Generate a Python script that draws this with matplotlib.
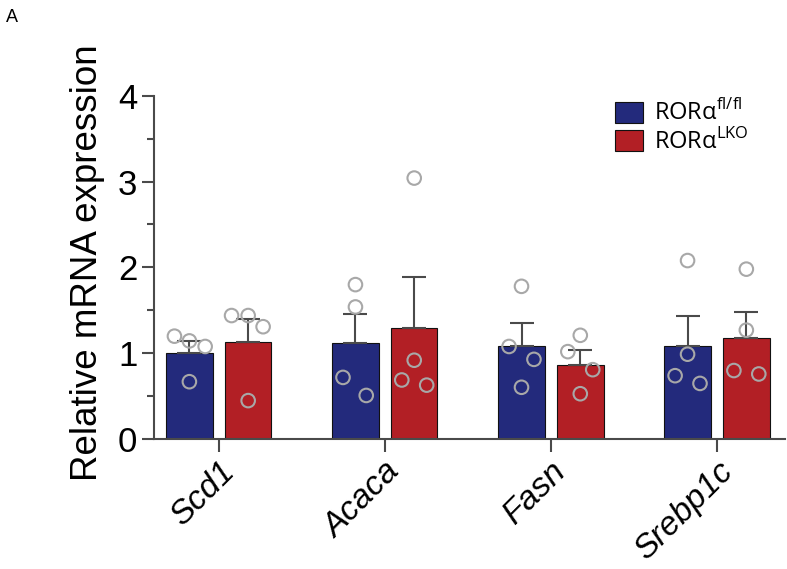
import numpy as np
import matplotlib
matplotlib.use("Agg")
import matplotlib.pyplot as plt
from matplotlib.ticker import MultipleLocator

plt.rcParams['font.family'] = ['Liberation Sans', 'DejaVu Sans']

genes = ["Scd1", "Acaca", "Fasn", "Srebp1c"]

# group means and upper SEM
wt_mean = [1.00, 1.125, 1.08, 1.09]
wt_sem = [0.14, 0.33, 0.27, 0.35]
ko_mean = [1.13, 1.30, 0.87, 1.18]
ko_sem = [0.27, 0.59, 0.17, 0.30]

# individual animals
wt_points = [
    [1.20, 1.145, 1.08, 0.67],
    [1.80, 1.54, 0.72, 0.51],
    [1.78, 1.08, 0.93, 0.605],
    [2.08, 0.99, 0.74, 0.65],
]
ko_points = [
    [1.44, 1.44, 1.31, 0.45],
    [3.04, 0.92, 0.69, 0.63],
    [1.21, 1.02, 0.81, 0.53],
    [1.98, 1.27, 0.80, 0.76],
]
# horizontal jitter of each dot within its bar
wt_jitter = [
    [-0.09, 0.0, 0.095, 0.0],
    [0.0, 0.0, -0.075, 0.065],
    [0.0, -0.075, 0.075, 0.0],
    [0.0, 0.0, -0.075, 0.075],
]
ko_jitter = [
    [-0.10, 0.0, 0.09, 0.0],
    [0.0, 0.0, -0.075, 0.075],
    [0.0, -0.075, 0.075, 0.0],
    [0.0, 0.0, -0.075, 0.075],
]

blue = "#232a7c"
red = "#b21f25"
dot_color = "#a8a8a8"
axis_color = "#4a4a4a"

fig = plt.figure(figsize=(7.87, 5.69), dpi=100)
ax = fig.add_axes([0.1957, 0.228, 0.8018, 0.604])

x = np.arange(len(genes))
width = 0.28
off = 0.177

err_kw = dict(ecolor=axis_color, elinewidth=1.5, capsize=8.6, capthick=1.5)
ax.bar(x - off, wt_mean, width, color=blue, edgecolor="#111111", linewidth=0.8,
       yerr=[np.zeros(len(genes)), wt_sem], error_kw=err_kw,
       label=r"ROR$\mathregular{\alpha}^{\mathregular{fl/fl}}$", zorder=2)
ax.bar(x + off, ko_mean, width, color=red, edgecolor="#111111", linewidth=0.8,
       yerr=[np.zeros(len(genes)), ko_sem], error_kw=err_kw,
       label=r"ROR$\mathregular{\alpha}^{\mathregular{LKO}}$", zorder=2)

for i in range(len(genes)):
    ax.scatter(x[i] - off + np.array(wt_jitter[i]), wt_points[i], s=95, facecolors="none",
               edgecolors=dot_color, linewidths=1.5, zorder=3)
    ax.scatter(x[i] + off + np.array(ko_jitter[i]), ko_points[i], s=95, facecolors="none",
               edgecolors=dot_color, linewidths=1.5, zorder=3)

ax.set_xlim(-0.39, 3.41)
ax.set_ylim(0, 4)
ax.yaxis.set_major_locator(MultipleLocator(1))
ax.yaxis.set_minor_locator(MultipleLocator(0.5))
ax.set_xticks(x)
ax.set_xticklabels(genes, rotation=45, ha="right", rotation_mode="anchor",
                   fontstyle="italic", fontsize=24)
ax.tick_params(axis="y", labelsize=25, length=9, width=1.5, color=axis_color, pad=3)
ax.tick_params(axis="y", which="minor", length=5, width=1.5, color=axis_color)
ax.tick_params(axis="x", length=9, width=1.5, color=axis_color, pad=3)
for side in ["top", "right"]:
    ax.spines[side].set_visible(False)
for side in ["left", "bottom"]:
    ax.spines[side].set_color(axis_color)
    ax.spines[side].set_linewidth(1.5)
ax.set_ylabel("Relative mRNA expression", fontsize=26.5)
ax.yaxis.set_label_coords(-0.077, 0.515)

leg = ax.legend(loc="upper left", bbox_to_anchor=(0.697, 1.049), frameon=False,
                handlelength=1.2, handleheight=1.0, handletextpad=0.45,
                labelspacing=0.1, prop={"family": ["Open Sans", "DejaVu Sans"], "size": 17})

fig.text(0.008, 0.985, "A", fontsize=13, va="top", ha="left")

fig.savefig("out.png", dpi=100)
